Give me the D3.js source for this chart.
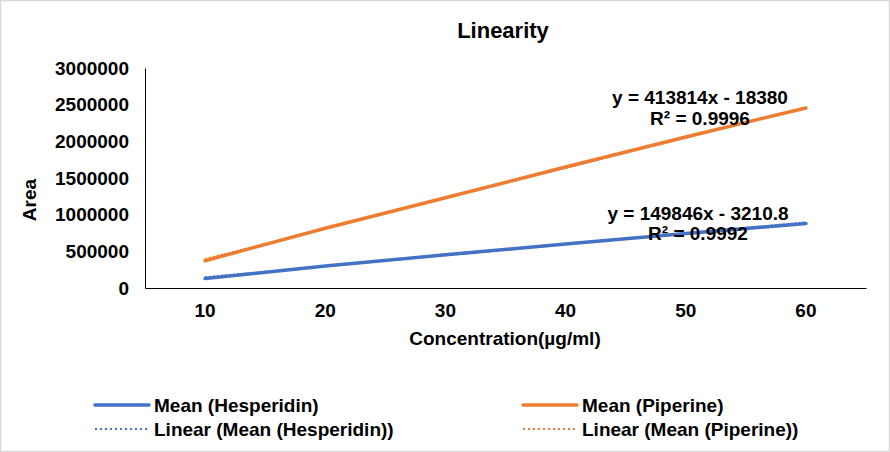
<!doctype html>
<html>
  <head>
    <meta charset="utf-8" />
    <title>Linearity</title>
    <style>
      body { margin: 0; background: #fff; }
      svg text { font-family: "Liberation Sans", Arial, sans-serif; font-weight: bold; fill: #000; }
    </style>
  </head>
  <body>
    <svg id="chart" width="890" height="452"></svg>
    <script src="https://d3js.org/d3.v7.min.js"></script>
    <script>
      // data
      const concentrations = ['10', '20', '30', '40', '50', '60'];
      const hesperidin = [128000, 300000, 452000, 600000, 742000, 880000];
      const piperine = [372000, 815000, 1230000, 1650000, 2060000, 2455000];
      const yTicks = [0, 500000, 1000000, 1500000, 2000000, 2500000, 3000000];
      // trendline coefficients (Excel uses category index 1..6 as x)
      const hespFit = { slope: 149846, intercept: -3210.8, label: 'y = 149846x - 3210.8', r2: 'R² = 0.9992' };
      const pipFit = { slope: 413814, intercept: -18380, label: 'y = 413814x - 18380', r2: 'R² = 0.9996' };

      const blue = '#4472C4';
      const orange = '#ED7D31';
      const fs = '19px';

      const svg = d3.select('#chart');

      // outer frame
      svg.append('rect')
        .attr('x', 0.5).attr('y', 0.5)
        .attr('width', 889).attr('height', 451)
        .attr('fill', '#fff')
        .attr('stroke', '#d9d9d9')
        .attr('stroke-width', 1.5);

      const x = d3.scaleBand().domain(concentrations).range([145, 866]);
      const y = d3.scaleLinear().domain([0, 3000000]).range([288, 68]);
      const cx = (i) => x(concentrations[i]) + x.bandwidth() / 2;

      // title
      svg.append('text')
        .attr('x', 503).attr('y', 38)
        .attr('text-anchor', 'middle')
        .style('font-size', '22px')
        .text('Linearity');

      // y axis
      const yAxis = svg.append('g')
        .attr('transform', 'translate(145,0)')
        .call(d3.axisLeft(y).tickValues(yTicks).tickSize(0).tickPadding(16).tickFormat(d3.format('d')));
      yAxis.select('.domain').attr('stroke', '#000');
      yAxis.selectAll('text').style('font-size', fs).style('font-family', null);

      // x axis
      const xAxis = svg.append('g')
        .attr('transform', 'translate(0,288)')
        .call(d3.axisBottom(x).tickSize(0).tickPadding(16));
      xAxis.select('.domain').attr('stroke', '#000');
      xAxis.selectAll('text').style('font-size', fs).style('font-family', null);

      // axis titles
      svg.append('text')
        .attr('transform', 'translate(36,200) rotate(-90)')
        .attr('text-anchor', 'middle')
        .style('font-size', fs)
        .text('Area');
      svg.append('text')
        .attr('x', 505).attr('y', 345)
        .attr('text-anchor', 'middle')
        .style('font-size', fs)
        .text('Concentration(µg/ml)');

      // data lines
      const line = d3.line().x((d, i) => cx(i)).y((d) => y(d));
      [[hesperidin, blue], [piperine, orange]].forEach(([vals, col]) => {
        svg.append('path')
          .datum(vals)
          .attr('d', line)
          .attr('fill', 'none')
          .attr('stroke', col)
          .attr('stroke-width', 3.5)
          .attr('stroke-linecap', 'round');
      });

      // trendlines
      [[hespFit, blue], [pipFit, orange]].forEach(([fit, col]) => {
        const n = concentrations.length;
        svg.append('line')
          .attr('x1', cx(0)).attr('y1', y(fit.slope * 1 + fit.intercept))
          .attr('x2', cx(n - 1)).attr('y2', y(fit.slope * n + fit.intercept))
          .attr('stroke', col)
          .attr('stroke-width', 2)
          .attr('stroke-dasharray', '2,2');
      });

      // equation labels
      const eqs = [
        [pipFit, 700, 104, 125],
        [hespFit, 698, 220, 240],
      ];
      eqs.forEach(([fit, ex, y1, y2]) => {
        svg.append('text').attr('x', ex).attr('y', y1).attr('text-anchor', 'middle')
          .style('font-size', fs).text(fit.label);
        svg.append('text').attr('x', ex).attr('y', y2).attr('text-anchor', 'middle')
          .style('font-size', fs).text(fit.r2);
      });

      // legend
      const legend = [
        { name: 'Mean (Hesperidin)', col: blue, dash: null, lx: 95, ly: 405 },
        { name: 'Mean (Piperine)', col: orange, dash: null, lx: 523, ly: 405 },
        { name: 'Linear (Mean (Hesperidin))', col: blue, dash: '2,3', lx: 95, ly: 429 },
        { name: 'Linear (Mean (Piperine))', col: orange, dash: '2,3', lx: 523, ly: 429 },
      ];
      const lg = svg.append('g');
      legend.forEach((d) => {
        lg.append('line')
          .attr('x1', d.lx).attr('x2', d.lx + 54)
          .attr('y1', d.ly).attr('y2', d.ly)
          .attr('stroke', d.col)
          .attr('stroke-width', d.dash ? 2 : 3.5)
          .attr('stroke-linecap', d.dash ? 'butt' : 'round')
          .attr('stroke-dasharray', d.dash);
        lg.append('text')
          .attr('x', d.lx + 59).attr('y', d.ly)
          .attr('dy', '0.35em')
          .style('font-size', fs)
          .text(d.name);
      });
    </script>
  </body>
</html>
